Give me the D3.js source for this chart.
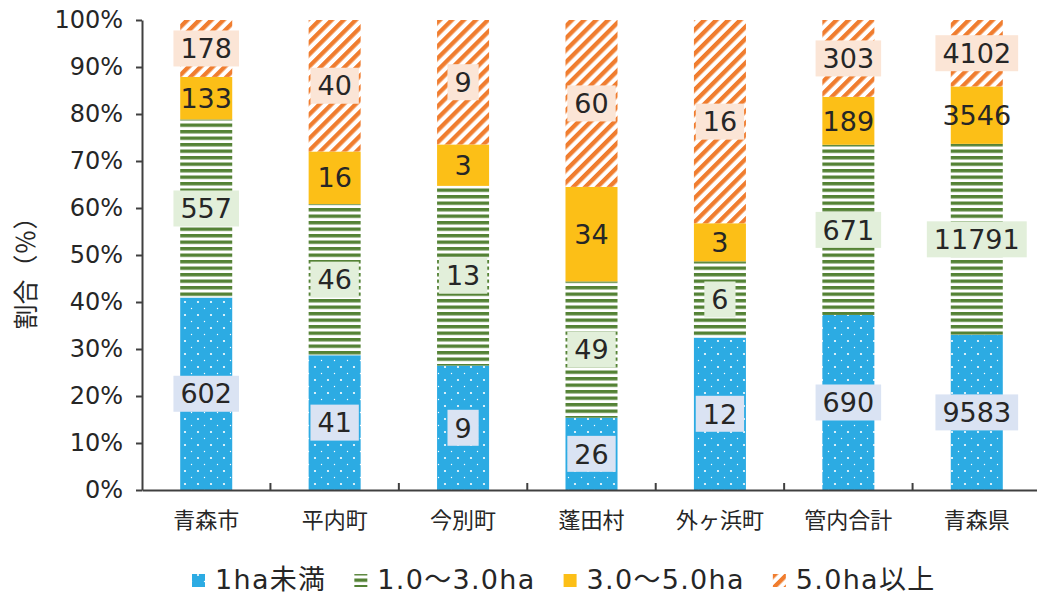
<!DOCTYPE html>
<html>
<head>
<meta charset="utf-8">
<script src="https://cdn.jsdelivr.net/npm/d3@7"></script>
<style>
  body { margin: 0; background: #fff; }
  svg text { fill: #262626; }
</style>
</head>
<body>
<div id="container"></div>
<script>
/* DATA */
const categories = ["青森市", "平内町", "今別町", "蓬田村", "外ヶ浜町", "管内合計", "青森県"];
const under1 = [602, 41, 9, 26, 12, 690, 9583];
const from1to3 = [557, 46, 13, 49, 6, 671, 11791];
const from3to5 = [133, 16, 3, 34, 3, 189, 3546];
const over5 = [178, 40, 9, 60, 16, 303, 4102];
const seriesNames = ["1ha未満", "1.0～3.0ha", "3.0～5.0ha", "5.0ha以上"];
const yTicks = [0, 10, 20, 30, 40, 50, 60, 70, 80, 90, 100];

/* CONSTANTS */
const width = 1037, height = 595;
const margin = {top: 20, bottom: 105, left: 142, right: -4};
const numFont = "'DejaVu Sans', 'Noto Sans CJK JP', sans-serif";
const cjkFont = "'Noto Sans CJK JP', sans-serif";

const blue = "#2cabe3", green = "#548235", yellow = "#fcbf17", orange = "#f07d2f";
const boxFill = ["#dae3f3", "#e2efda", null, "#fbe5d6"];

const counts = [under1, from1to3, from3to5, over5];
const rows = categories.map((c, i) => {
  const total = counts.reduce((s, arr) => s + arr[i], 0);
  const row = {cat: c};
  seriesNames.forEach((k, j) => { row[k] = counts[j][i] / total * 100; row[k + "_n"] = counts[j][i]; });
  return row;
});
const stacked = d3.stack().keys(seriesNames)(rows);

const svg = d3.select("#container").append("svg")
  .attr("width", width).attr("height", height);

/* PATTERNS */
const defs = svg.append("defs");
const pDots = defs.append("pattern").attr("id", "p0")
  .attr("patternUnits", "userSpaceOnUse").attr("width", 13).attr("height", 13);
pDots.append("rect").attr("width", 13).attr("height", 13).attr("fill", blue);
pDots.append("circle").attr("cx", 3).attr("cy", 3).attr("r", 1.1).attr("fill", "#fff");
pDots.append("circle").attr("cx", 9.5).attr("cy", 9.5).attr("r", 0.7).attr("fill", "#fff");

const pLines = defs.append("pattern").attr("id", "p1")
  .attr("patternUnits", "userSpaceOnUse").attr("width", 10).attr("height", 6.5);
pLines.append("rect").attr("width", 10).attr("height", 6.5).attr("fill", "#fff");
pLines.append("rect").attr("width", 10).attr("height", 3.4).attr("fill", green);

const pSolid = defs.append("pattern").attr("id", "p2")
  .attr("patternUnits", "userSpaceOnUse").attr("width", 10).attr("height", 10);
pSolid.append("rect").attr("width", 10).attr("height", 10).attr("fill", yellow);

const pHatch = defs.append("pattern").attr("id", "p3")
  .attr("patternUnits", "userSpaceOnUse").attr("width", 8.5).attr("height", 8.5)
  .attr("patternTransform", "rotate(45)");
pHatch.append("rect").attr("width", 8.5).attr("height", 8.5).attr("fill", "#fff");
pHatch.append("rect").attr("width", 4.3).attr("height", 8.5).attr("fill", orange);

/* SCALES */
const xScale = d3.scaleBand()
  .domain(categories)
  .range([margin.left, width - margin.right])
  .paddingInner(0.595)
  .paddingOuter(0.2975);

const yScale = d3.scaleLinear()
  .domain([0, 100])
  .range([height - margin.bottom, margin.top]);

/* BARS */
const layers = svg.append("g").selectAll("g")
  .data(stacked)
  .join("g")
  .attr("fill", (d, i) => `url(#p${i})`);

layers.selectAll("rect")
  .data(d => d)
  .join("rect")
  .attr("x", d => xScale(d.data.cat))
  .attr("y", d => yScale(d[1]))
  .attr("width", xScale.bandwidth())
  .attr("height", d => yScale(d[0]) - yScale(d[1]));

/* AXES */
const yAxis = svg.append("g")
  .attr("transform", `translate(${margin.left},0)`)
  .call(d3.axisLeft(yScale).tickValues(yTicks).tickFormat(d => d + "%")
    .tickSize(6).tickSizeOuter(0).tickPadding(13));
yAxis.selectAll("path, line").attr("stroke", "#404040").attr("stroke-width", 2);
yAxis.selectAll("text").style("font-family", numFont).style("font-size", "24px").attr("fill", "#333");

const y0 = yScale(0);
const xAxis = svg.append("g").attr("transform", `translate(0,${y0})`)
  .call(d3.axisBottom(xScale).tickSize(0).tickSizeOuter(0));
xAxis.select("path").attr("stroke", "#404040").attr("stroke-width", 2);
xAxis.selectAll("text")
  .attr("y", 30).attr("dy", "0.35em")
  .style("font-family", cjkFont).style("font-size", "22px").attr("fill", "#333");

// boundary ticks between categories
const gap = (xScale.step() - xScale.bandwidth()) / 2;
const bounds = categories.map(c => xScale(c) - gap).concat([xScale(categories[categories.length - 1]) + xScale.bandwidth() + gap]);
svg.append("g").selectAll("line")
  .data(bounds.slice(1))
  .join("line")
  .attr("x1", d => d).attr("x2", d => d)
  .attr("y1", y0).attr("y2", y0 - 7)
  .attr("stroke", "#404040").attr("stroke-width", 2);

/* LABELS */
stacked.forEach((layer, i) => {
  layer.forEach(d => {
    const cx = xScale(d.data.cat) + xScale.bandwidth() / 2;
    const cy = (yScale(d[0]) + yScale(d[1])) / 2;
    const g = svg.append("g");
    const t = g.append("text")
      .attr("x", cx).attr("y", cy).attr("dy", "0.36em")
      .attr("text-anchor", "middle")
      .style("font-family", numFont).style("font-size", "27px")
      .text(d.data[seriesNames[i] + "_n"]);
    if (boxFill[i]) {
      const w = t.node().getComputedTextLength();
      g.insert("rect", "text")
        .attr("x", cx - w / 2 - 7).attr("y", cy - 18)
        .attr("width", w + 14).attr("height", 36)
        .attr("fill", boxFill[i]);
    }
  });
});

/* Y TITLE */
svg.append("text")
  .attr("transform", `translate(26,${(yScale(0) + yScale(100)) / 2 + 12}) rotate(-90)`)
  .attr("text-anchor", "middle").attr("dy", "0.35em")
  .style("font-family", cjkFont).style("font-size", "25px")
  .text("割合（％）");

/* LEGEND */
const legend = svg.append("g");
let lx = 192;
seriesNames.forEach((name, i) => {
  legend.append("rect")
    .attr("x", lx).attr("y", 574).attr("width", 13).attr("height", 13)
    .attr("fill", `url(#p${i})`);
  const t = legend.append("text")
    .attr("x", lx + 23).attr("y", 589)
    .style("font-family", numFont).style("font-size", "27px")
    .style("letter-spacing", "1.3px")
    .text(name);
  lx += 23 + t.node().getComputedTextLength() + 28;
});
</script>
</body>
</html>
